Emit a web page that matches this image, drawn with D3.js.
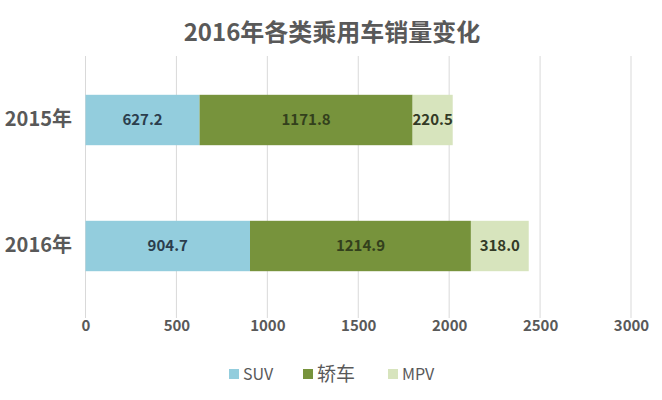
<!DOCTYPE html>
<html><head><meta charset="utf-8">
<script src="https://cdn.jsdelivr.net/npm/d3@7"></script>
<style>body{margin:0;background:#fff}svg{display:block}</style>
</head><body>
<script>
const title = "2016年各类乘用车销量变化";
const categories = ["2015年", "2016年"];
const seriesNames = ["SUV", "轿车", "MPV"];
const suv = [627.2, 904.7];
const sedan = [1171.8, 1214.9];
const mpv = [220.5, 318.0];
const xTicks = [0, 500, 1000, 1500, 2000, 2500, 3000];
const colors = ["#93CDDD", "#77933C", "#D7E4BD"];
const textColors = ["#2b3d4d", "#33401c", "#333a26"];

const W = 662, H = 400;
const font = "'Noto Sans CJK SC', 'Noto Sans', sans-serif";
const svg = d3.select("body").append("svg").attr("width", W).attr("height", H);

const x = d3.scaleLinear().domain([0, 3000]).range([85.5, 631]);
const y = d3.scaleBand().domain(categories).range([57, 309]).paddingInner(0.6).paddingOuter(0.3);

// title
svg.append("text").attr("x", 332).attr("y", 41).attr("text-anchor", "middle")
  .attr("font-family", font).attr("font-weight", "bold").attr("font-size", 24)
  .attr("fill", "#595959").text(title);

// gridlines
svg.append("g").selectAll("line").data(xTicks).join("line")
  .attr("x1", d => x(d)).attr("x2", d => x(d)).attr("y1", 56).attr("y2", 318)
  .attr("stroke", "#d9d9d9").attr("stroke-width", 1);

// x axis labels
const xAxis = d3.axisBottom(x).tickValues(xTicks).tickFormat(d3.format("d")).tickSize(0).tickPadding(0);
const gx = svg.append("g").attr("transform", "translate(0,320)").call(xAxis);
gx.select(".domain").remove();
gx.selectAll("text").attr("font-family", font).attr("font-size", 15).attr("font-weight", 600)
  .attr("fill", "#595959");

// y labels
const yAxis = d3.axisLeft(y).tickSize(0).tickPadding(0);
const gy = svg.append("g").attr("transform", "translate(72,0)").call(yAxis);
gy.select(".domain").remove();
gy.selectAll("text").attr("font-family", font).attr("font-size", 20).attr("font-weight", "bold")
  .attr("fill", "#595959");

// stacked data
const rows = categories.map((c, i) => ({cat: c, SUV: suv[i], "轿车": sedan[i], MPV: mpv[i]}));
const stack = d3.stack().keys(seriesNames)(rows);

stack.forEach((layer, li) => {
  const g = svg.append("g");
  g.selectAll("rect").data(layer).join("rect")
    .attr("x", d => x(d[0])).attr("width", d => x(d[1]) - x(d[0]))
    .attr("y", d => y(d.data.cat)).attr("height", y.bandwidth())
    .attr("fill", colors[li]);
  g.selectAll("text").data(layer).join("text")
    .attr("x", d => (x(d[0]) + x(d[1])) / 2)
    .attr("y", d => y(d.data.cat) + y.bandwidth() / 2)
    .attr("dy", "0.35em").attr("text-anchor", "middle")
    .attr("font-family", font).attr("font-size", 15).attr("font-weight", "bold")
    .attr("fill", textColors[li])
    .text(d => (d[1] - d[0]).toFixed(1));
});

// legend
const legendX = [229, 303, 388];
const lg = svg.append("g");
seriesNames.forEach((name, i) => {
  lg.append("rect").attr("x", legendX[i]).attr("y", 369).attr("width", 10).attr("height", 10)
    .attr("fill", colors[i]);
  lg.append("text").attr("x", legendX[i] + 14).attr("y", 374).attr("dy", "0.35em")
    .attr("font-family", font).attr("font-size", i === 1 ? 19 : 16)
    .attr("fill", "#595959").text(name);
});
</script>
</body></html>
